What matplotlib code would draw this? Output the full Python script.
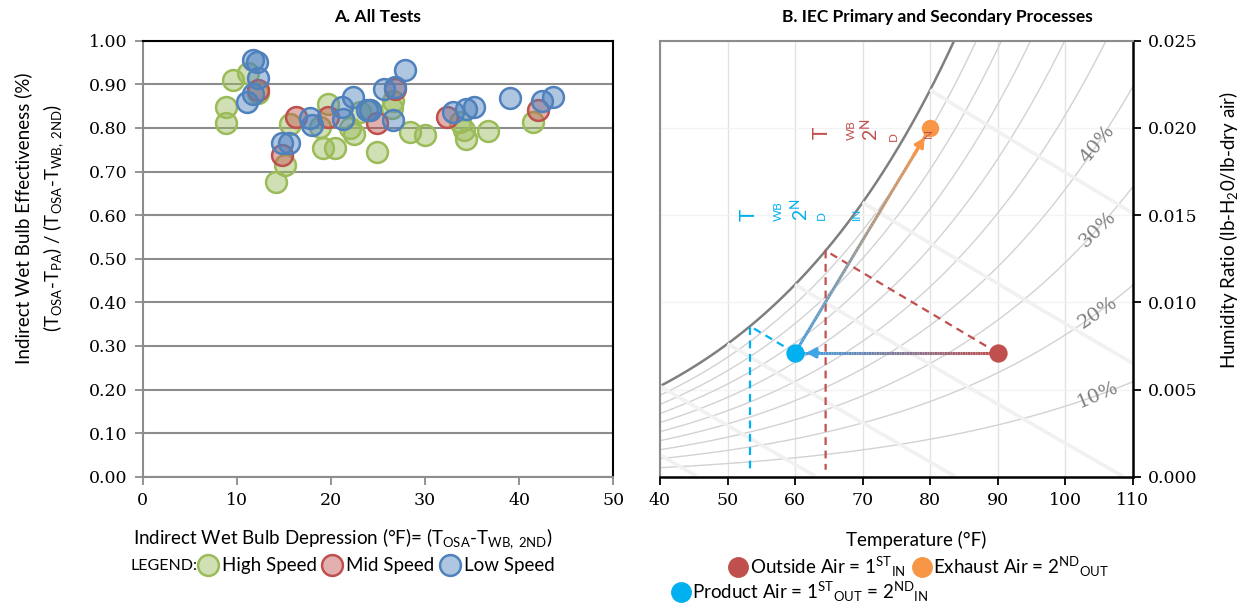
import matplotlib
matplotlib.use('Agg')
import matplotlib.pyplot as plt
import numpy as np
from matplotlib.collections import LineCollection
from matplotlib.colors import to_rgb, to_rgba
from matplotlib.lines import Line2D
from matplotlib.ticker import FormatStrFormatter

# tick labels use the serif face; every other text names Lato itself
plt.rcParams['font.family'] = ['DejaVu Serif']
plt.rcParams['mathtext.fontset'] = 'custom'
plt.rcParams['mathtext.rm'] = 'Lato'
plt.rcParams['mathtext.it'] = 'Lato:italic'
plt.rcParams['mathtext.bf'] = 'Lato:bold'
SANS = ['Lato', 'DejaVu Sans']

# ---- panel A: test results (wet bulb depression, effectiveness)
high_x = [8.9, 8.9, 9.6, 11.2, 12.3, 14.2, 15.1, 15.6, 19.2, 20.4, 19.7, 22.4, 22.0,
          24.9, 28.4, 30.0, 34.4, 36.7, 41.5, 26.5, 34.1, 33.7, 23.1, 26.6, 18.8, 24.2]
high_y = [0.811, 0.848, 0.910, 0.927, 0.881, 0.675, 0.715, 0.809, 0.753, 0.753, 0.854, 0.786, 0.800,
          0.745, 0.791, 0.784, 0.774, 0.794, 0.814, 0.845, 0.795, 0.814, 0.837, 0.862, 0.803, 0.840]
mid_x = [12.3, 14.8, 16.3, 19.7, 24.9, 26.8, 32.3, 42.0]
mid_y = [0.886, 0.738, 0.826, 0.824, 0.811, 0.889, 0.826, 0.841]
low_x = [11.7, 12.1, 12.2, 11.7, 11.1, 15.5, 14.8, 17.8, 18.0, 21.3, 22.3, 21.2, 23.8,
         24.2, 26.6, 25.6, 26.8, 27.9, 33.0, 34.3, 35.2, 39.0, 42.4, 43.6]
low_y = [0.956, 0.952, 0.914, 0.877, 0.859, 0.766, 0.765, 0.822, 0.807, 0.820, 0.872, 0.849, 0.841,
         0.841, 0.818, 0.890, 0.894, 0.933, 0.837, 0.843, 0.849, 0.868, 0.862, 0.872]
speed_labels = ['High Speed', 'Mid Speed', 'Low Speed']
speed_colors = ['#9BBB59', '#C0504D', '#4F81BD']

# ---- panel B: process states (deg F, lb/lb)
state_names = ['Outside Air', 'Product Air', 'Exhaust Air']
state_t = [90, 60, 80]
state_w = [0.0071, 0.0071, 0.0200]
state_colors = ['#C0504D', '#00B0F0', '#F79646']
rh_levels = [0.1, 0.2, 0.3, 0.4, 0.5, 0.6, 0.7, 0.8, 0.9, 1.0]
rh_labels = ['10%', '20%', '30%', '40%']
wb_levels = [30, 40, 50, 60, 70, 80]

P_ATM = 14.696


def p_ws(t):
    tc = (np.asarray(t, dtype=float) - 32) / 1.8
    return 6.112 * np.exp(17.62 * tc / (243.12 + tc)) * 0.0145038


def w_rh(t, rh):
    pw = rh * p_ws(t)
    return 0.622 * pw / (P_ATM - pw)


def w_wb(t, twb):
    ws = w_rh(twb, 1.0)
    return ((1093 - 0.556 * twb) * ws - 0.240 * (t - twb)) / (1093 + 0.444 * t - twb)


def t_wb(t, w):
    lo, hi = 20.0, float(t)
    for _ in range(60):
        mid = (lo + hi) / 2
        if w_wb(t, mid) > w:
            hi = mid
        else:
            lo = mid
    return (lo + hi) / 2


def grad_line(ax, p0, p1, c0, c1, n=80):
    xs = np.linspace(p0[0], p1[0], n + 1)
    ys = np.linspace(p0[1], p1[1], n + 1)
    segs = np.stack([np.column_stack([xs[:-1], ys[:-1]]),
                     np.column_stack([xs[1:], ys[1:]])], axis=1)
    a, b = np.array(to_rgb(c0)), np.array(to_rgb(c1))
    cols = [a + (b - a) * f for f in np.linspace(0, 1, n)]
    ax.add_collection(LineCollection(segs, colors=cols, lw=2.2, zorder=4))


def arrow_head(ax, p0, p1, c):
    # short arrow near the end of p0->p1, tip stops at the marker edge
    start = (p1[0] - 0.12 * (p1[0] - p0[0]), p1[1] - 0.12 * (p1[1] - p0[1]))
    ax.annotate('', xy=p1, xytext=start,
                arrowprops=dict(arrowstyle='-|>,head_length=0.55,head_width=0.3', color=c,
                                lw=2.2, shrinkA=0, shrinkB=8), zorder=5)


fig = plt.figure(figsize=(12.46, 6.05), dpi=100)
H = 605.0
W = 1246.0

# ================= panel A
ax1 = fig.add_axes([142.7 / W, 128.3 / H, 470.6 / W, 436 / H])
for xs, ys, c, lbl in zip([high_x, mid_x, low_x], [high_y, mid_y, low_y], speed_colors, speed_labels):
    ax1.scatter(xs, ys, s=225, facecolor=to_rgba(c, 0.45), edgecolor=c, lw=1.8, zorder=3, label=lbl)
ax1.set_xlim(0, 50)
ax1.set_ylim(0, 1)
ax1.set_xticks(range(0, 51, 10))
ax1.set_yticks(np.arange(0, 1.001, 0.1))
ax1.yaxis.set_major_formatter(FormatStrFormatter('%.2f'))
ax1.grid(axis='y', color='#8c8c8c', lw=1.5)
ax1.set_axisbelow(True)
ax1.tick_params(direction='out', length=6, width=1.3, color='#8c8c8c', labelsize=12.5, pad=5)
for s in ['left', 'bottom']:
    ax1.spines[s].set_color('#8c8c8c')
    ax1.spines[s].set_linewidth(1.5)
for s in ['top', 'right']:
    ax1.spines[s].set_color('black')
    ax1.spines[s].set_linewidth(1.5)

fig.text(378 / W, 1 - 17 / H, 'A. All Tests', ha='center', va='center', fontsize=12.5,
         fontweight='bold', family=SANS)
fig.text(133 / W, 1 - 539 / H,
         r'Indirect Wet Bulb Depression (°F)= (T$_{\mathrm{OSA}}$-T$_{\mathrm{WB,\ 2ND}}$)',
         ha='left', va='center', fontsize=13.5, family=SANS)
fig.text(40 / W, 1 - 218 / H,
         'Indirect Wet Bulb Effectiveness (%)\n'
         r'(T$_{\mathrm{OSA}}$-T$_{\mathrm{PA}}$) / (T$_{\mathrm{OSA}}$-T$_{\mathrm{WB,\ 2ND}}$)',
         ha='center', va='center', rotation=90, fontsize=13.5, linespacing=1.5, family=SANS)

fig.text(130 / W, 1 - 566 / H, 'LEGEND:', ha='left', va='center', fontsize=11.5, family=SANS)
h1 = [Line2D([], [], marker='o', ls='', ms=15, mfc=to_rgba(c, 0.45), mec=c, mew=1.8) for c in speed_colors]
fig.legend(h1, speed_labels, loc='center left', bbox_to_anchor=(196 / W, 1 - 566 / H), ncol=3,
           frameon=False, prop={'family': SANS, 'size': 13.5}, handletextpad=0.1, columnspacing=0.15,
           handlelength=1.3, borderaxespad=0, borderpad=0)

# ================= panel B
ax2 = fig.add_axes([660 / W, 128.3 / H, 472.7 / W, 436 / H])
ax2.set_xlim(40, 110)
ax2.set_ylim(0, 0.025)
ax2.set_xticks(range(40, 111, 10))
ax2.set_yticks(np.arange(0, 0.02501, 0.005))
ax2.yaxis.set_major_formatter(FormatStrFormatter('%.3f'))
ax2.yaxis.tick_right()
ax2.grid(axis='x', color='#e2e2e2', lw=1, zorder=0)
ax2.grid(axis='y', color='#f3f3f3', lw=1, zorder=0)
ax2.set_axisbelow(True)
ax2.tick_params(direction='out', length=6, width=1.3, color='black', labelsize=12.5, pad=5)
for s in ['left', 'top']:
    ax2.spines[s].set_color('#8c8c8c')
    ax2.spines[s].set_linewidth(1.5)
for s in ['right', 'bottom']:
    ax2.spines[s].set_color('black')
    ax2.spines[s].set_linewidth(1.8)

tt = np.linspace(40, 110, 400)
for rh in rh_levels:
    if rh == 1.0:
        ax2.plot(tt, w_rh(tt, rh), color='#7f7f7f', lw=1.8, zorder=2)
    else:
        ax2.plot(tt, w_rh(tt, rh), color='#d2d2d2', lw=1.0, zorder=1.5)
for twb in wb_levels:
    tl = np.linspace(max(twb, 40), 110, 300)
    wl = w_wb(tl, twb)
    keep = wl >= 0
    ax2.plot(tl[keep], wl[keep], color='#f1f1f1', lw=2.6, zorder=2.5, solid_capstyle='butt')

rh_angles = [23, 34, 44, 50]
for rh, lbl, ang in zip(rh_levels, rh_labels, rh_angles):
    ax2.text(104.8, w_rh(104.8, rh), lbl, rotation=ang, ha='center', va='center',
             color='#7f7f7f', fontsize=14, family='DejaVu Serif', zorder=3)

# wet bulb construction lines
for i in [0, 1]:
    twb = t_wb(state_t[i], state_w[i])
    ax2.plot([state_t[i], twb, twb], [state_w[i], w_rh(twb, 1.0), 0.0004],
             color=state_colors[i], lw=1.6, ls=(0, (3.5, 2.5)), zorder=3)

# process arrows
oa = (state_t[0], state_w[0])
pa = (state_t[1], state_w[1])
ea = (state_t[2], state_w[2])
blue_end = '#3FA3E6'
grad_line(ax2, oa, pa, state_colors[0], blue_end)
grad_line(ax2, pa, ea, '#4A9DDD', state_colors[2])
arrow_head(ax2, oa, pa, blue_end)
arrow_head(ax2, pa, ea, state_colors[2])

ms = [13.2, 13.2, 12.5]
for t, w, c, m in zip(state_t, state_w, state_colors, ms):
    ax2.plot(t, w, 'o', ms=m, color=c, mec='none', zorder=6)


# rotated wet bulb text fragments
def frag(x, y, s, c, size):
    ax2.text(x, y, s, rotation=90, ha='center', va='center', color=c, fontsize=size, zorder=7,
             family=SANS)


red, cyan = state_colors[0], state_colors[1]
frag(64.0, 0.0197, 'T', red, 15)
frag(68.4, 0.0199, 'WB', red, 8.5)
frag(71.1, 0.0199, r'$2^{\mathrm{N}}$', red, 14)
frag(74.5, 0.0195, 'D', red, 8.5)
frag(79.8, 0.0197, 'N', red, 8.5)
frag(53.1, 0.0150, 'T', cyan, 15)
frag(57.5, 0.0152, 'WB', cyan, 8.5)
frag(60.7, 0.0153, r'$2^{\mathrm{N}}$', cyan, 14)
frag(63.9, 0.0150, 'D', cyan, 8.5)
frag(69.1, 0.0151, 'IN', cyan, 8.5)

fig.text(937 / W, 1 - 17 / H, 'B. IEC Primary and Secondary Processes', ha='center', va='center',
         fontsize=12.5, fontweight='bold', family=SANS)
fig.text(916 / W, 1 - 540 / H, 'Temperature (°F)', ha='center', va='center', fontsize=13.5, family=SANS)
fig.text(1228 / W, 1 - 230 / H, r'Humidity Ratio (lb-H$_2$0/lb-dry air)', ha='center', va='center',
         rotation=90, fontsize=13.5, family=SANS)

leg_labels = [r'Outside Air = 1$^{\mathrm{ST}}{}_{\mathrm{IN}}$',
              r'Exhaust Air = 2$^{\mathrm{ND}}{}_{\mathrm{OUT}}$',
              r'Product Air = 1$^{\mathrm{ST}}{}_{\mathrm{OUT}}$ = 2$^{\mathrm{ND}}{}_{\mathrm{IN}}$']
hs = [Line2D([], [], marker='o', ls='', ms=14, color=c) for c in state_colors]
fig.legend([hs[0], hs[2]], [leg_labels[0], leg_labels[1]], loc='center left',
           bbox_to_anchor=(727 / W, 1 - 567 / H), ncol=2, frameon=False,
           prop={'family': SANS, 'size': 13.5},
           handletextpad=0.0, columnspacing=0.3, handlelength=1.2, borderaxespad=0, borderpad=0)
fig.legend([hs[1]], [leg_labels[2]], loc='center left', bbox_to_anchor=(670 / W, 1 - 592 / H),
           frameon=False, prop={'family': SANS, 'size': 13.5}, handletextpad=0.0, handlelength=1.2,
           borderaxespad=0, borderpad=0)

fig.savefig('out.png', dpi=100)
